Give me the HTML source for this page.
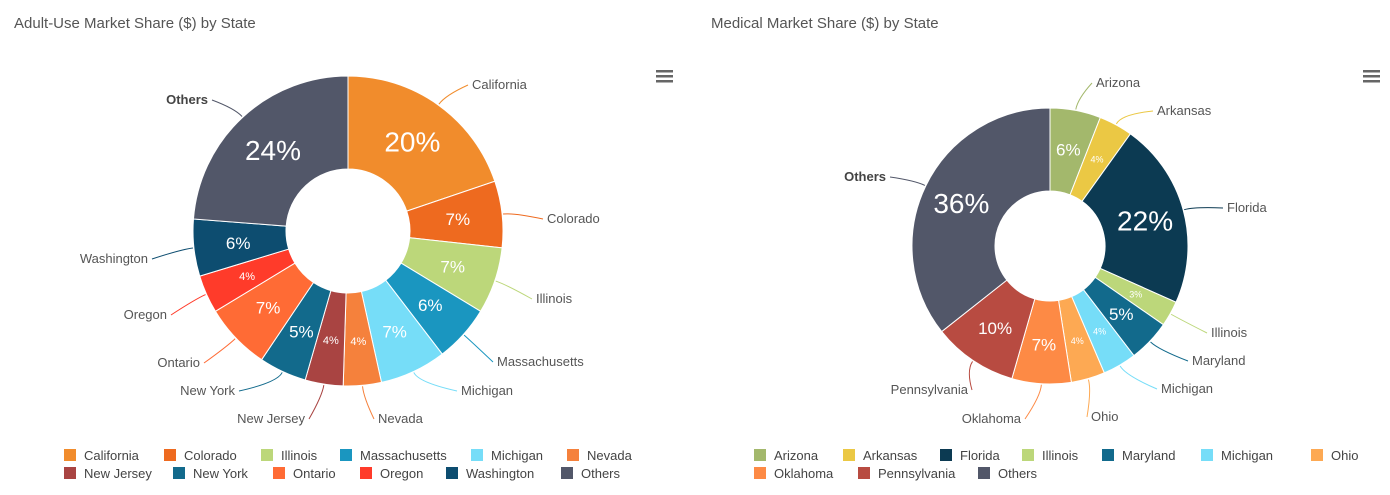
<!DOCTYPE html>
<html><head><meta charset="utf-8"><style>
body{margin:0;background:#fff;width:1390px;height:490px;overflow:hidden;font-family:"Liberation Sans",sans-serif}
svg text{font-family:"Liberation Sans",sans-serif}
</style></head><body>
<svg id="s" width="1390" height="490" xmlns="http://www.w3.org/2000/svg">
<text x="14" y="28" font-size="15" fill="#555">Adult-Use Market Share ($) by State</text>
<text x="711" y="28" font-size="15" fill="#555">Medical Market Share ($) by State</text>
<g fill="#666"><rect x="656" y="70" width="17" height="2.5"/><rect x="656" y="75" width="17" height="2.5"/><rect x="656" y="80" width="17" height="2.5"/>
<rect x="1363" y="70" width="17" height="2.5"/><rect x="1363" y="75" width="17" height="2.5"/><rect x="1363" y="80" width="17" height="2.5"/></g>
</svg>
<script>
var NS="http://www.w3.org/2000/svg",S=document.getElementById('s');
function el(t,a,txt){var e=document.createElementNS(NS,t);for(var k in a)e.setAttribute(k,a[k]);if(txt!=null)e.textContent=txt;S.appendChild(e);return e;}
function pt(cx,cy,r,a){return [cx+r*Math.sin(a),cy-r*Math.cos(a)];}
function donut(cx,cy,R,r0,data){
 var tot=0;data.forEach(d=>tot+=d.v);var a=0;
 data.forEach(d=>{
  var a1=a+d.v/tot*2*Math.PI,lg=(a1-a)>Math.PI?1:0;
  var p1=pt(cx,cy,R,a),p2=pt(cx,cy,R,a1),p3=pt(cx,cy,r0,a1),p4=pt(cx,cy,r0,a);
  el('path',{d:`M${p1}A${R},${R} 0 ${lg} 1 ${p2}L${p3}A${r0},${r0} 0 ${lg} 0 ${p4}Z`,fill:d.c,stroke:'#fff','stroke-width':1});
  var m=(a+a1)/2,lp=pt(cx,cy,(R+r0)/2+2,m);
  var fs=d.v>=15?28:(d.v>=5?17:(d.sm?9:11));
  el('text',{x:lp[0],y:lp[1]+fs*0.36,'font-size':fs,fill:'#fff','text-anchor':'middle'},d.v+'%');
  var e=pt(cx,cy,R+1,m),k=pt(cx,cy,R+12,m);
  var end=d.anchor=='end';var lx=d.lx+(end?4:-4),ly=d.ly-4;
  el('path',{d:`M${e}Q${k} ${lx},${ly}`,fill:'none',stroke:d.c,'stroke-width':1});
  el('text',{x:d.lx,y:d.ly,'font-size':13,fill:d.b?'#444':'#555','text-anchor':end?'end':'start','font-weight':d.b?'bold':'normal'},d.n);
  a=a1;
 });
}
var L=[
{n:'California',v:20,c:'#f18c2c',lx:472,ly:89},
{n:'Colorado',v:7,c:'#ee6a1f',lx:547,ly:223},
{n:'Illinois',v:7,c:'#bcd77a',lx:536,ly:303},
{n:'Massachusetts',v:6,c:'#1a96c0',lx:497,ly:366},
{n:'Michigan',v:7,c:'#76ddf8',lx:461,ly:395},
{n:'Nevada',v:4,c:'#f5813c',lx:378,ly:423},
{n:'New Jersey',v:4,c:'#a94442',lx:305,ly:423,anchor:'end'},
{n:'New York',v:5,c:'#126a8c',lx:235,ly:395,anchor:'end'},
{n:'Ontario',v:7,c:'#ff6b35',lx:200,ly:367,anchor:'end'},
{n:'Oregon',v:4,c:'#ff3b2a',lx:167,ly:319,anchor:'end'},
{n:'Washington',v:6,c:'#0d4d70',lx:148,ly:263,anchor:'end'},
{n:'Others',v:24,c:'#525769',lx:208,ly:104,anchor:'end',b:1}];
donut(348,231,155,62,L);
var R=[
{n:'Arizona',v:6,c:'#a3b86c',lx:1096,ly:87},
{n:'Arkansas',v:4,c:'#ebc844',lx:1157,ly:115,sm:1},
{n:'Florida',v:22,c:'#0c3a52',lx:1227,ly:212},
{n:'Illinois',v:3,c:'#bcd77a',lx:1211,ly:337,sm:1},
{n:'Maryland',v:5,c:'#126a8c',lx:1192,ly:365},
{n:'Michigan',v:4,c:'#76ddf8',lx:1161,ly:393,sm:1},
{n:'Ohio',v:4,c:'#fda953',lx:1091,ly:421,sm:1},
{n:'Oklahoma',v:7,c:'#fd8a45',lx:1021,ly:423,anchor:'end'},
{n:'Pennsylvania',v:10,c:'#b84b41',lx:968,ly:394,anchor:'end'},
{n:'Others',v:36,c:'#525769',lx:886,ly:181,anchor:'end',b:1}];
donut(1050,246,138,55,R);
function leg(items){items.forEach(i=>{el('rect',{x:i[1],y:i[2]-6,width:12,height:12,fill:i[3]});el('text',{x:i[1]+20,y:i[2]+5,'font-size':13,fill:'#444'},i[0]);});}
leg([['California',64,455,'#f18c2c'],['Colorado',164,455,'#ee6a1f'],['Illinois',261,455,'#bcd77a'],['Massachusetts',340,455,'#1a96c0'],['Michigan',471,455,'#76ddf8'],['Nevada',567,455,'#f5813c'],
['New Jersey',64,473,'#a94442'],['New York',173,473,'#126a8c'],['Ontario',273,473,'#ff6b35'],['Oregon',360,473,'#ff3b2a'],['Washington',446,473,'#0d4d70'],['Others',561,473,'#525769'],
['Arizona',754,455,'#a3b86c'],['Arkansas',843,455,'#ebc844'],['Florida',940,455,'#0c3a52'],['Illinois',1022,455,'#bcd77a'],['Maryland',1102,455,'#126a8c'],['Michigan',1201,455,'#76ddf8'],['Ohio',1311,455,'#fda953'],
['Oklahoma',754,473,'#fd8a45'],['Pennsylvania',858,473,'#b84b41'],['Others',978,473,'#525769']]);
</script>
</body></html>
